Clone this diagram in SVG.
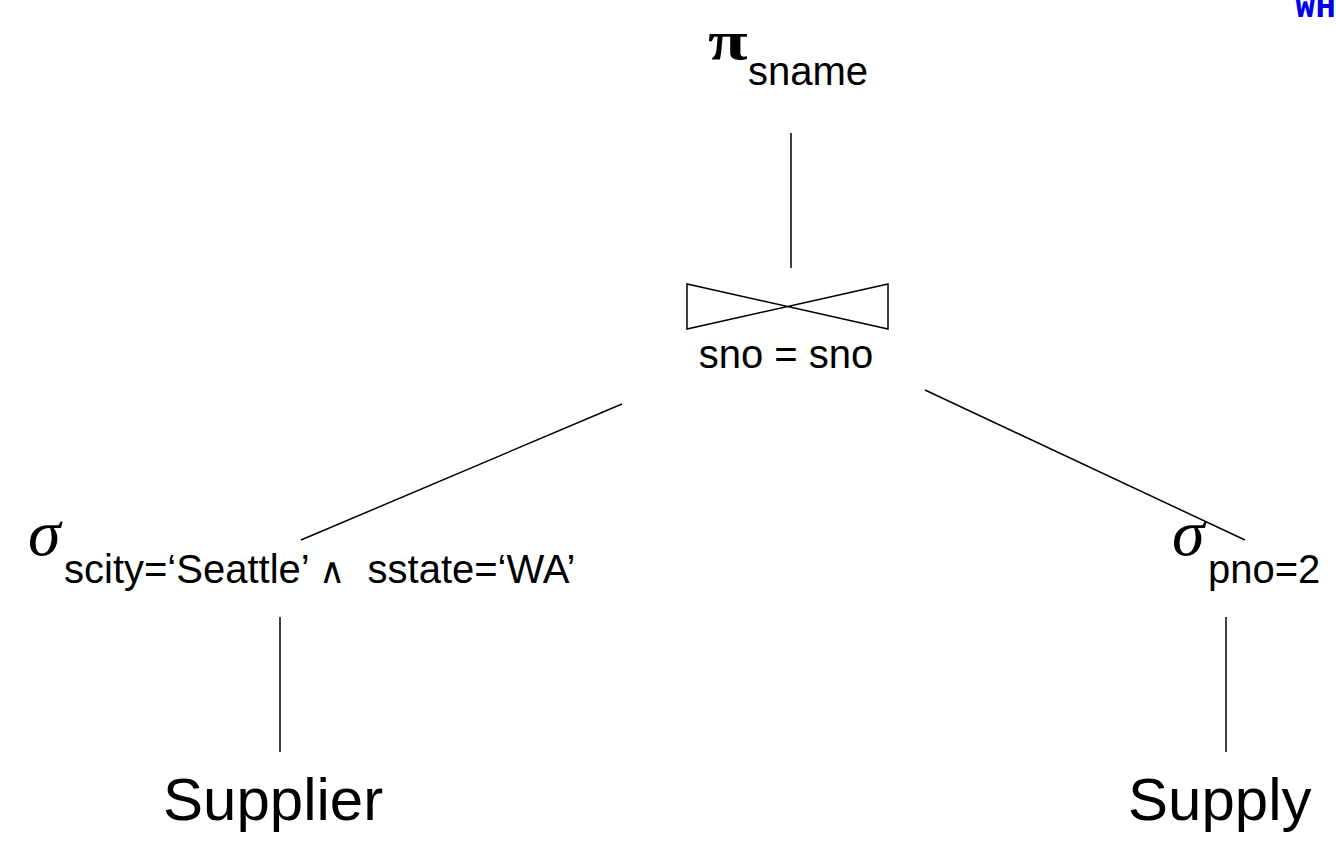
<svg xmlns="http://www.w3.org/2000/svg" width="1336" height="854" viewBox="0 0 1336 854">
<style>
.ln{stroke:#000;stroke-width:1.5;fill:none}
.t{font-family:"Liberation Sans",Arial,sans-serif;fill:#000}
.g{font-family:"Liberation Serif","Times New Roman",serif;fill:#000}
</style>
<rect width="1336" height="854" fill="#fff"/>
<text x="1295" y="17" font-family="Liberation Mono,monospace" font-weight="bold" font-size="34" fill="#0000ee">WHERE</text>
<g id="project">
<text class="g" font-size="50" font-weight="bold" transform="translate(708,59) scale(1.45,1.1)">π</text>
<text class="t" x="748" y="85" font-size="40">sname</text>
</g>
<g id="join">
<path class="ln" d="M687,284 V329 L888,284 V329 Z"/>
<text class="t" x="786" y="368" font-size="40" text-anchor="middle">sno = sno</text>
</g>
<g id="select-left">
<text class="g" x="28" y="555" font-size="66" font-style="italic">σ</text>
<text class="t" x="64" y="583" font-size="40" xml:space="preserve">scity=‘Seattle’ <tspan font-family="DejaVu Sans,sans-serif" font-size="36" font-weight="300">∧</tspan>  sstate=‘WA’</text>
</g>
<g id="select-right">
<text class="g" x="1172" y="555" font-size="66" font-style="italic">σ</text>
<text class="t" x="1208" y="583" font-size="40">pno=2</text>
</g>
<g id="supplier">
<text class="t" x="163" y="820" font-size="60">Supplier</text>
</g>
<g id="supply">
<text class="t" x="1128" y="820" font-size="60">Supply</text>
</g>
<g id="connectors">
<line class="ln" x1="791" y1="133" x2="791" y2="268"/>
<line class="ln" x1="622" y1="404" x2="301" y2="540"/>
<line class="ln" x1="925" y1="390" x2="1245" y2="540"/>
<line class="ln" x1="280" y1="617" x2="280" y2="752"/>
<line class="ln" x1="1226" y1="617" x2="1226" y2="752"/>
</g>
</svg>
